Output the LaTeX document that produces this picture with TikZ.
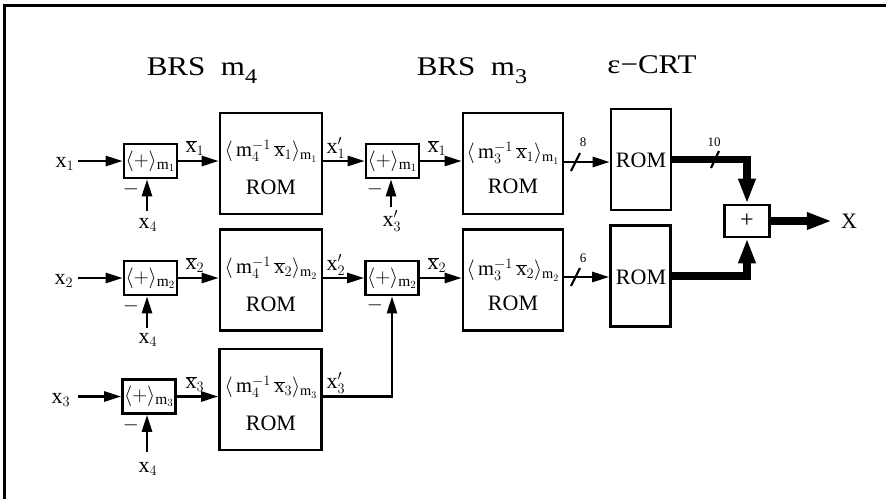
\documentclass[tikz,border=0pt]{standalone}
\usepackage{fontspec}
\setmainfont{Liberation Serif}
\usetikzlibrary{arrows.meta}
\newcommand{\ttlsub}[1]{\raisebox{-8pt}{\fontsize{21}{22}\selectfont #1}}
\begin{document}
\begin{tikzpicture}[x=1pt,y=-1pt,
  box/.style={draw, line width=2.6pt, inner sep=0pt},
  addbox/.style={box, minimum width=53pt, minimum height=34pt, font=\fontsize{22}{24}\selectfont},
  rombox/.style={box, minimum width=102pt, minimum height=101pt},
  crtbox/.style={box, minimum width=60pt, minimum height=101pt},
  arr/.style={-{Triangle[length=17pt,width=10pt]}, line width=2.6pt},
  fatarr/.style={-{Triangle[length=25pt,width=16pt]}, line width=7.5pt, line join=miter},
  lbl/.style={font=\fontsize{22}{24}\selectfont, inner sep=0pt},
  frm/.style={font=\fontsize{20.5}{22}\selectfont, inner sep=0pt},
  ttl/.style={font=\fontsize{27}{30}\selectfont, inner sep=0pt},
  small/.style={font=\fontsize{13}{14}\selectfont, inner sep=0pt},
  minus/.style={font=\fontsize{22}{24}\selectfont, inner sep=0pt},
  slash/.style={line width=2.2pt}
 ]
\useasboundingbox (0,0) rectangle (886,499);
% partial frame
\draw[line width=3pt] (4,499) -- (4,5) -- (886,5);

% titles
\node[ttl, anchor=base] (t1) at (202,75) {\scalebox{1.15}[1]{BRS\ \ m\ttlsub{4}}};
\node[ttl, anchor=base] (t2) at (472,75) {\scalebox{1.15}[1]{BRS\ \ m\ttlsub{3}}};
\node[ttl, anchor=base] (t3) at (652,73) {\scalebox{1.15}[1]{ε−CRT}};

% stage 1 adders
\node[addbox] (a11) at (150.5,161) {$\langle+\rangle_{\mathrm{m}_1}$};
\node[addbox] (a12) at (150.5,278) {$\langle+\rangle_{\mathrm{m}_2}$};
\node[addbox] (a13) at (149,396.5) {$\langle+\rangle_{\mathrm{m}_3}$};

% stage 1 ROMs
\node[rombox] (r11) at (271,163.5) {};
\node[rombox] (r12) at (271,280) {};
\node[rombox] (r13) at (270.5,399.5) {};
\node[frm] (f11) at (271,151) {$\langle\,\mathrm{m}_4^{-1}\,\overline{\mathrm{x}}_1\rangle_{\mathrm{m}_1}$};
\node[frm] (f12) at (271,268) {$\langle\,\mathrm{m}_4^{-1}\,\overline{\mathrm{x}}_2\rangle_{\mathrm{m}_2}$};
\node[frm] (f13) at (271,387) {$\langle\,\mathrm{m}_4^{-1}\,\overline{\mathrm{x}}_3\rangle_{\mathrm{m}_3}$};
\node[lbl] (o11) at (271,187) {ROM};
\node[lbl] (o12) at (271,304) {ROM};
\node[lbl] (o13) at (271,423) {ROM};

% stage 2 adders
\node[addbox] (a21) at (392.5,161) {$\langle+\rangle_{\mathrm{m}_1}$};
\node[addbox] (a22) at (392,278) {$\langle+\rangle_{\mathrm{m}_2}$};

% stage 2 ROMs
\node[rombox, minimum width=100pt] (r21) at (513,163.5) {};
\node[rombox, minimum width=100pt] (r22) at (513,280) {};
\node[frm] (f21) at (513,153) {$\langle\,\mathrm{m}_3^{-1}\,\overline{\mathrm{x}}_1\rangle_{\mathrm{m}_1}$};
\node[frm] (f22) at (513,270) {$\langle\,\mathrm{m}_3^{-1}\,\overline{\mathrm{x}}_2\rangle_{\mathrm{m}_2}$};
\node[lbl] (o21) at (513,186) {ROM};
\node[lbl] (o22) at (513,303) {ROM};

% CRT ROMs
\node[crtbox] (c1) at (641,159.5) {};
\node[crtbox] (c2) at (640.5,276) {};
\node[lbl] (oc1) at (641,160) {ROM};
\node[lbl] (oc2) at (641,277) {ROM};

% final adder
\node[box, minimum width=45pt, minimum height=32pt, font=\fontsize{24}{26}\selectfont] (p) at (747,221) {+};
\node[lbl] (X) at (849,221) {X};

% inputs
\node[lbl] (x1) at (65,164) {x$_1$};
\node[lbl] (x2) at (64,281) {x$_2$};
\node[lbl] (x3) at (61,400) {x$_3$};
\coordinate (i1) at (78,161);
\coordinate (i2) at (78,278);
\coordinate (i3) at (78,396.5);
\draw[arr] (i1) -- (a11);
\draw[arr] (i2) -- (a12);
\draw[arr] (i3) -- (a13);

% x4 inputs from below
\node[lbl] (s1) at (148,225) {x$_4$};
\node[lbl] (s2) at (148,340) {x$_4$};
\node[lbl] (s3) at (148,469) {x$_4$};
\coordinate (b1) at (147,211);
\coordinate (b2) at (147,328);
\coordinate (b3) at (147,452);
\draw[arr] (b1) -- (b1 |- a11.south);
\draw[arr] (b2) -- (b2 |- a12.south);
\draw[arr] (b3) -- (b3 |- a13.south);
\node[minus] (m11) at (131,189) {$-$};
\node[minus] (m12) at (131,306) {$-$};
\node[minus] (m13) at (131,425) {$-$};

% stage1 adder -> ROM
\draw[arr] (a11.east) -- (a11.east -| r11.west);
\draw[arr] (a12.east) -- (a12.east -| r12.west);
\draw[arr] (a13.east) -- (a13.east -| r13.west);
\node[lbl] (xb11) at (195,148) {$\overline{\mathrm{x}}_1$};
\node[lbl] (xb12) at (195,265) {$\overline{\mathrm{x}}_2$};
\node[lbl] (xb13) at (195,384) {$\overline{\mathrm{x}}_3$};

% stage1 ROM -> stage2 adder
\draw[arr] (r11.east |- a21.west) -- (a21.west);
\draw[arr] (r12.east |- a22.west) -- (a22.west);
\draw[arr] (r13.east |- a13.east) -| (a22.south);
\node[lbl] (xp1) at (336,148) {x$'_1$};
\node[lbl] (xp2) at (336,265) {x$'_2$};
\node[lbl] (xp3) at (336,383) {x$'_3$};

% x3' into stage 2 adder 1
\node[lbl] (s21) at (392,221) {x$'_3$};
\coordinate (b21) at (391,207);
\draw[arr] (b21) -- (b21 |- a21.south);
\node[minus] (m21) at (375,189) {$-$};
\node[minus] (m22) at (375,305) {$-$};

% stage2 adder -> ROM
\draw[arr] (a21.east) -- (a21.east -| r21.west);
\draw[arr] (a22.east) -- (a22.east -| r22.west);
\node[lbl] (xb21) at (437,148) {$\overline{\mathrm{x}}_1$};
\node[lbl] (xb22) at (437,265) {$\overline{\mathrm{x}}_2$};

% stage2 ROM -> CRT ROM
\coordinate (e1) at (563,162);
\coordinate (e2) at (563,277);
\draw[arr] (e1) -- (e1 -| c1.west);
\draw[arr] (e2) -- (e2 -| c2.west);
\draw[slash] (571,171) -- (580,153);
\draw[slash] (571,286) -- (580,268);
\node[small] (n8) at (583,142) {8};
\node[small] (n6) at (583,258) {6};

% CRT -> final adder
\draw[fatarr] (c1.east) -| (p.north);
\draw[fatarr] (c2.east) -| (p.south);
\draw[slash] (711,168) -- (719,151);
\node[small] (n10) at (714,142) {10};
\draw[fatarr] (p.east) -- ([xshift=-9pt]X.west);
\end{tikzpicture}
\end{document}
